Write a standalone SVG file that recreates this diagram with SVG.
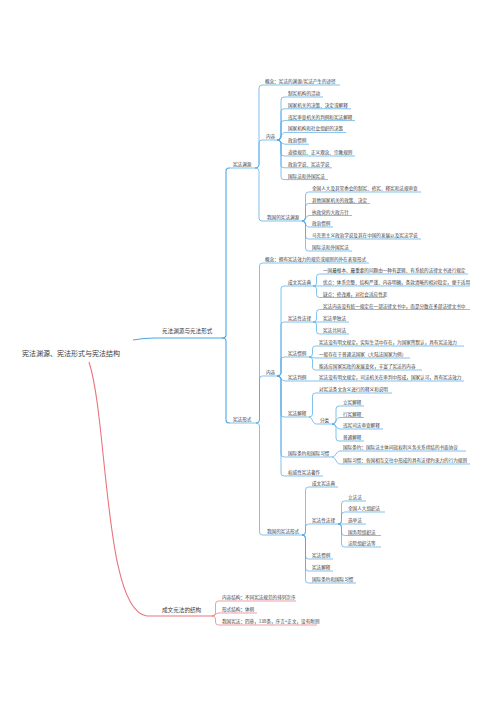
<svg xmlns="http://www.w3.org/2000/svg" width="496" height="702" viewBox="0 0 496 702">
<style>
.t{font-family:"Noto Sans CJK SC","Noto Sans",sans-serif;fill:#3c3c3c;font-size:4.6px}
.t1{font-size:5.6px}
.t0{font-size:7px}
.b{stroke:#4ba7e6;fill:none;stroke-width:0.7}
.bm{stroke:#4ba7e6;fill:none;stroke-width:1.1}
.r{stroke:#e9747d;fill:none;stroke-width:0.7}
.rm{stroke:#e9747d;fill:none;stroke-width:1.1}
</style>
<rect width="496" height="702" fill="#fff"/>
<g id="connectors">
<path class="bm" d="M133 340 C141 338.5 146 338 155 338"/>
<path class="rm" d="M89 362 C108 420 104 612 147 616"/>
<path class="bm" d="M222 338 Q226 338 226 335 V171 Q226 168 229 168 H230"/>
<path class="bm" d="M222 338 Q226 338 226 341 V420 Q226 423 229 423 H230"/>
<path class="b" d="M255 168 Q259 168 259 165 V88 Q259 85 262 85 H263"/>
<path class="b" d="M255 168 Q259 168 259 165 V143 Q259 140 262 140 H263"/>
<path class="b" d="M255 168 Q259 168 259 171 V218 Q259 221 262 221 H263"/>
<path class="b" d="M277 140 Q281 140 281 137 V100 Q281 97 284 97 H285"/>
<path class="b" d="M277 140 Q281 140 281 137 V111.8 Q281 108.8 284 108.8 H285"/>
<path class="b" d="M277 140 Q281 140 281 137 V123.6 Q281 120.6 284 120.6 H285"/>
<path class="b" d="M277 140 C281 140 281 132.4 285 132.4"/>
<path class="b" d="M277 140 C281 140 281 144.2 285 144.2"/>
<path class="b" d="M277 140 Q281 140 281 143 V153 Q281 156 284 156 H285"/>
<path class="b" d="M277 140 Q281 140 281 143 V164.8 Q281 167.8 284 167.8 H285"/>
<path class="b" d="M277 140 Q281 140 281 143 V176.6 Q281 179.6 284 179.6 H285"/>
<path class="b" d="M302 221 Q305.5 221 305.5 218 V195 Q305.5 192 308.5 192 H309"/>
<path class="b" d="M302 221 Q305.5 221 305.5 218 V206.5 Q305.5 203.5 308.5 203.5 H309"/>
<path class="b" d="M302 221 C305.5 221 305.5 215.5 309 215.5"/>
<path class="b" d="M302 221 C305.5 221 305.5 227 309 227"/>
<path class="b" d="M302 221 Q305.5 221 305.5 224 V236 Q305.5 239 308.5 239 H309"/>
<path class="b" d="M302 221 Q305.5 221 305.5 224 V248 Q305.5 251 308.5 251 H309"/>
<path class="b" d="M256 423 Q259.5 423 259.5 420 V266 Q259.5 263 262.5 263 H263"/>
<path class="b" d="M256 423 Q259.5 423 259.5 420 V379 Q259.5 376 262.5 376 H263"/>
<path class="b" d="M256 423 Q259.5 423 259.5 426 V532 Q259.5 535 262.5 535 H263"/>
<path class="b" d="M277 376 Q281 376 281 373 V289 Q281 286 284 286 H285"/>
<path class="b" d="M277 376 Q281 376 281 373 V325 Q281 322 284 322 H285"/>
<path class="b" d="M277 376 Q281 376 281 373 V360 Q281 357 284 357 H285"/>
<path class="b" d="M277 376 C281 376 281 381 285 381"/>
<path class="b" d="M277 376 Q281 376 281 379 V414 Q281 417 284 417 H285"/>
<path class="b" d="M277 376 Q281 376 281 379 V454 Q281 457 284 457 H285"/>
<path class="b" d="M277 376 Q281 376 281 379 V473 Q281 476 284 476 H285"/>
<path class="b" d="M313 286 Q316.5 286 316.5 283 V277 Q316.5 274 319.5 274 H320"/>
<path class="b" d="M313 286 H320"/>
<path class="b" d="M313 286 Q316.5 286 316.5 289 V294.5 Q316.5 297.5 319.5 297.5 H320"/>
<path class="b" d="M313 322 Q316.5 322 316.5 319 V312.5 Q316.5 309.5 319.5 309.5 H320"/>
<path class="b" d="M313 322 H320"/>
<path class="b" d="M313 322 Q316.5 322 316.5 325 V331 Q316.5 334 319.5 334 H320"/>
<path class="b" d="M309 357 Q312.5 357 312.5 354 V349 Q312.5 346 315.5 346 H316"/>
<path class="b" d="M309 357 C312.5 357 312.5 358 316 358"/>
<path class="b" d="M309 357 Q312.5 357 312.5 360 V367 Q312.5 370 315.5 370 H316"/>
<path class="b" d="M309 381 H316"/>
<path class="b" d="M309 417 Q312.5 417 312.5 414 V396 Q312.5 393 315.5 393 H316"/>
<path class="b" d="M309 417 C312.5 417 312.5 424 316 424"/>
<path class="b" d="M332 424 Q336 424 336 421 V409 Q336 406 339 406 H340"/>
<path class="b" d="M332 424 C336 424 336 417.5 340 417.5"/>
<path class="b" d="M332 424 C336 424 336 429 340 429"/>
<path class="b" d="M332 424 Q336 424 336 427 V438 Q336 441 339 441 H340"/>
<path class="b" d="M332 457 C336 457 336 451 340 451"/>
<path class="b" d="M332 457 C336 457 336 464 340 464"/>
<path class="b" d="M302 535 Q305.5 535 305.5 532 V490 Q305.5 487 308.5 487 H309"/>
<path class="b" d="M302 535 Q305.5 535 305.5 532 V527 Q305.5 524 308.5 524 H309"/>
<path class="b" d="M302 535 Q305.5 535 305.5 538 V556 Q305.5 559 308.5 559 H309"/>
<path class="b" d="M302 535 Q305.5 535 305.5 538 V568 Q305.5 571 308.5 571 H309"/>
<path class="b" d="M302 535 Q305.5 535 305.5 538 V580 Q305.5 583 308.5 583 H309"/>
<path class="b" d="M338 524 Q341.5 524 341.5 521 V504 Q341.5 501 344.5 501 H345"/>
<path class="b" d="M338 524 Q341.5 524 341.5 521 V515 Q341.5 512 344.5 512 H345"/>
<path class="b" d="M338 524 H345"/>
<path class="b" d="M338 524 Q341.5 524 341.5 527 V532.5 Q341.5 535.5 344.5 535.5 H345"/>
<path class="b" d="M338 524 Q341.5 524 341.5 527 V544 Q341.5 547 344.5 547 H345"/>
<path class="r" d="M212 616 Q215.5 616 215.5 613 V604 Q215.5 601 218.5 601 H219"/>
<path class="r" d="M212 616 C215.5 616 215.5 613 219 613"/>
<path class="r" d="M212 616 Q215.5 616 215.5 619 V622 Q215.5 625 218.5 625 H219"/>
</g>
<g id="root"><text class="t t0" x="22" y="356">宪法渊源、宪法形式与宪法结构</text></g>
<g id="n-yuanyuan-xingshi"><path class="bm" d="M155 338 H222"/><text class="t t1" x="162" y="333">宪法渊源与宪法形式</text></g>
<g id="n-jiegou"><path class="rm" d="M147 616 H212"/><text class="t t1" x="162" y="612">成文宪法的结构</text></g>
<g id="n-yuanyuan"><path class="b" d="M230 168 H255"/><text class="t" x="233" y="166">宪法渊源</text></g>
<g id="n-xingshi"><path class="b" d="M230 423 H256"/><text class="t" x="233" y="421">宪法形式</text></g>
<g id="n-y-gainian"><path class="b" d="M263 85 H340"/><text class="t" x="265" y="83">概念：宪法的渊源/宪法产生的途径</text></g>
<g id="n-y-neirong"><path class="b" d="M263 140 H277"/><text class="t" x="266" y="138">内容</text></g>
<g id="n-y-1"><path class="b" d="M285 97 H323"/><text class="t" x="288" y="95">制宪机构的活动</text></g>
<g id="n-y-2"><path class="b" d="M285 108.8 H351"/><text class="t" x="288" y="106.8">国家机关的决策、决定或解释</text></g>
<g id="n-y-3"><path class="b" d="M285 120.6 H355"/><text class="t" x="288" y="118.6">违宪审查机关的判例和宪法解释</text></g>
<g id="n-y-4"><path class="b" d="M285 132.4 H346"/><text class="t" x="288" y="130.4">国家机构和社会组织的决策</text></g>
<g id="n-y-5"><path class="b" d="M285 144.2 H309"/><text class="t" x="288" y="142.2">政治惯例</text></g>
<g id="n-y-6"><path class="b" d="M285 156 H355"/><text class="t" x="288" y="154">道德规范、正义观念、宗教规则</text></g>
<g id="n-y-7"><path class="b" d="M285 167.8 H332"/><text class="t" x="288" y="165.8">政治学说、宪法学说</text></g>
<g id="n-y-8"><path class="b" d="M285 179.6 H328"/><text class="t" x="288" y="177.6">国际法和外国宪法</text></g>
<g id="n-y-woguo"><path class="b" d="M263 221 H302"/><text class="t" x="267" y="219">我国的宪法渊源</text></g>
<g id="n-yw-1"><path class="b" d="M309 192 H421"/><text class="t" x="312" y="190">全国人大及其常委会的制宪、修宪、释宪和法规审查</text></g>
<g id="n-yw-2"><path class="b" d="M309 203.5 H370"/><text class="t" x="312" y="201.5">其他国家机关的政策、决定</text></g>
<g id="n-yw-3"><path class="b" d="M309 215.5 H352"/><text class="t" x="312" y="213.5">执政党的大政方针</text></g>
<g id="n-yw-4"><path class="b" d="M309 227 H333"/><text class="t" x="312" y="225">政治惯例</text></g>
<g id="n-yw-5"><path class="b" d="M309 239 H421"/><text class="t" x="312" y="237">马克思主义政治学说及其在中国的发展以及宪法学说</text></g>
<g id="n-yw-6"><path class="b" d="M309 251 H352"/><text class="t" x="312" y="249">国际法和外国宪法</text></g>
<g id="n-x-gainian"><path class="b" d="M263 263 H369"/><text class="t" x="265" y="261">概念：拥有宪法效力的规范或规则的外在表现形式</text></g>
<g id="n-x-neirong"><path class="b" d="M263 376 H277"/><text class="t" x="266" y="374">内容</text></g>
<g id="n-x-chengwen"><path class="b" d="M285 286 H313"/><text class="t" x="288" y="284">成文宪法典</text></g>
<g id="n-cw-1"><path class="b" d="M320 274 H468"/><text class="t" x="323" y="272">一国最根本、最重要的问题由一种有逻辑、有系统的法律文书进行规定</text></g>
<g id="n-cw-2"><path class="b" d="M320 286 H470"/><text class="t" x="323" y="284">优点：体系完整、结构严谨、内容明确，条款清晰的相对稳定，便于适用</text></g>
<g id="n-cw-3"><path class="b" d="M320 297.5 H385"/><text class="t" x="323" y="295.5">缺点：修改难，对社会适应性差</text></g>
<g id="n-x-xfx"><path class="b" d="M285 322 H313"/><text class="t" x="288" y="320">宪法性法律</text></g>
<g id="n-xf-1"><path class="b" d="M320 309.5 H470"/><text class="t" x="323" y="307.5">宪法内容没有统一规定在一部法律文书中，而是分散在多部法律文书中</text></g>
<g id="n-xf-2"><path class="b" d="M320 322 H349"/><text class="t" x="323" y="320">宪法单独法</text></g>
<g id="n-xf-3"><path class="b" d="M320 334 H349"/><text class="t" x="323" y="332">宪法共同法</text></g>
<g id="n-x-guanli"><path class="b" d="M285 357 H309"/><text class="t" x="288" y="355">宪法惯例</text></g>
<g id="n-gl-1"><path class="b" d="M316 346 H464"/><text class="t" x="319" y="344">宪法没有明文规定，实际生活中存在，为国家所默认，具有宪法效力</text></g>
<g id="n-gl-2"><path class="b" d="M316 358 H410"/><text class="t" x="319" y="356">一般存在于普通法国家（大陆法国家为例）</text></g>
<g id="n-gl-3"><path class="b" d="M316 370 H422"/><text class="t" x="319" y="368">能适应国家宪政的发展变化，丰富了宪法的内容</text></g>
<g id="n-x-panli"><path class="b" d="M285 381 H309"/><text class="t" x="288" y="379">宪法判例</text></g>
<g id="n-pl-1"><path class="b" d="M316 381 H464"/><text class="t" x="319" y="379">宪法没有明文规定，司法机关在审判中形成，国家认可，具有宪法效力</text></g>
<g id="n-x-jieshi"><path class="b" d="M285 417 H309"/><text class="t" x="288" y="415">宪法解释</text></g>
<g id="n-js-1"><path class="b" d="M316 393 H392"/><text class="t" x="319" y="391">对宪法条文含义进行的释义和说明</text></g>
<g id="n-js-fenlei"><path class="b" d="M316 424 H332"/><text class="t" x="320" y="422">分类</text></g>
<g id="n-fl-1"><path class="b" d="M340 406 H364"/><text class="t" x="343" y="404">立宪解释</text></g>
<g id="n-fl-2"><path class="b" d="M340 417.5 H364"/><text class="t" x="343" y="415.5">行宪解释</text></g>
<g id="n-fl-3"><path class="b" d="M340 429 H383"/><text class="t" x="343" y="427">违宪司法审查解释</text></g>
<g id="n-fl-4"><path class="b" d="M340 441 H364"/><text class="t" x="343" y="439">普通解释</text></g>
<g id="n-x-guoji"><path class="b" d="M285 457 H332"/><text class="t" x="288" y="455">国际条约和国际习惯</text></g>
<g id="n-gj-1"><path class="b" d="M340 451 H466"/><text class="t" x="343" y="449">国际条约：国际法主体间就权利义务关系缔结的书面协议</text></g>
<g id="n-gj-2"><path class="b" d="M340 464 H470"/><text class="t" x="343" y="462">国际习惯：各国相互交往中形成的具有法律约束力的行为规则</text></g>
<g id="n-x-zhuzuo"><path class="b" d="M285 476 H323"/><text class="t" x="288" y="474">权威性宪法著作</text></g>
<g id="n-x-woguo"><path class="b" d="M263 535 H302"/><text class="t" x="267" y="533">我国的宪法形式</text></g>
<g id="n-xw-1"><path class="b" d="M309 487 H338"/><text class="t" x="312" y="485">成文宪法典</text></g>
<g id="n-xw-2"><path class="b" d="M309 524 H338"/><text class="t" x="312" y="522">宪法性法律</text></g>
<g id="n-xw-2a"><path class="b" d="M345 501 H366"/><text class="t" x="348" y="499">立法法</text></g>
<g id="n-xw-2b"><path class="b" d="M345 512 H385"/><text class="t" x="348" y="510">全国人大组织法</text></g>
<g id="n-xw-2c"><path class="b" d="M345 524 H366"/><text class="t" x="348" y="522">选举法</text></g>
<g id="n-xw-2d"><path class="b" d="M345 535.5 H381"/><text class="t" x="348" y="533.5">国务院组织法</text></g>
<g id="n-xw-2e"><path class="b" d="M345 547 H381"/><text class="t" x="348" y="545">法院组织法等</text></g>
<g id="n-xw-3"><path class="b" d="M309 559 H333"/><text class="t" x="312" y="557">宪法惯例</text></g>
<g id="n-xw-4"><path class="b" d="M309 571 H333"/><text class="t" x="312" y="569">宪法解释</text></g>
<g id="n-xw-5"><path class="b" d="M309 583 H356"/><text class="t" x="312" y="581">国际条约和国际习惯</text></g>
<g id="n-jg-1"><path class="r" d="M219 601 H296"/><text class="t" x="222" y="599">内容结构：不同宪法规范的排列次序</text></g>
<g id="n-jg-2"><path class="r" d="M219 613 H257"/><text class="t" x="222" y="611">形式结构：体例</text></g>
<g id="n-jg-3"><path class="r" d="M219 625 H317"/><text class="t" x="222" y="623">我国宪法：四章，138条，序言+正文，没有附则</text></g>
</svg>
